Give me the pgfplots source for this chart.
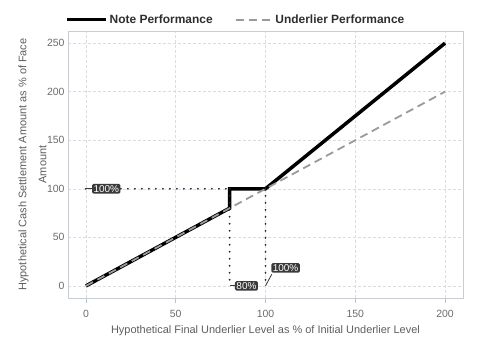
\documentclass[border=0pt]{standalone}
\usepackage{fontspec}
\setmainfont{Liberation Sans}
\usepackage{pgfplots}
\pgfplotsset{compat=1.18}
\definecolor{tickc}{HTML}{6B6B6B}
\definecolor{labelc}{HTML}{5E5E5E}
\definecolor{gridc}{HTML}{DCDCDC}
\definecolor{axisc}{HTML}{C8CDD3}
\definecolor{tickmc}{HTML}{B8C4CE}
\definecolor{dotc}{HTML}{1E2838}
\definecolor{boxc}{HTML}{3A3A3A}
\definecolor{undc}{HTML}{9A9A9A}
\definecolor{legc}{HTML}{2E2E2E}
\pgfplotsset{
  noteimg/.style={legend image code/.code={\draw[##1] (0bp,0bp) -- (39bp,0bp);}},
  undimg/.style={legend image code/.code={\draw[##1] (0bp,0bp) -- (37bp,0bp);}},
}
\begin{document}
\begin{tikzpicture}
\begin{axis}[
  name=ax,
  scale only axis,
  width=395bp, height=267bp,
  xmin=-10, xmax=210, ymin=-12.5, ymax=262.5,
  xtick={0,50,100,150,200}, ytick={0,50,100,150,200,250},
  grid=major,
  major grid style={dashed, dash pattern=on 3bp off 2bp, color=gridc, line width=0.5bp},
  axis line style={draw=axisc, line width=0.8bp},
  xtick pos=lower, ytick pos=left,
  tick align=outside,
  xtick style={draw=tickmc, line width=0.6bp},
  ytick style={draw=none},
  major tick length=5bp,
  /pgf/number format/assume math mode=true,
  tick label style={font=\fontsize{10.5}{12}\selectfont, text=tickc},
  yticklabel style={xshift=5bp},
  xticklabel style={yshift=-4bp},
  xlabel={Hypothetical Final Underlier Level as \% of Initial Underlier Level},
  ylabel={Hypothetical Cash Settlement Amount as \% of Face\\Amount},
  label style={font=\fontsize{11}{20}\selectfont, text=labelc},
  ylabel style={align=center, at={(axis description cs:0,0.5)}, anchor=south, yshift=18bp},
  xlabel style={at={(axis description cs:0.5,0)}, anchor=north, yshift=-24bp},
  legend columns=2,
  legend style={at={(0,1)}, anchor=south west, xshift=-3bp, yshift=4bp, draw=none, fill=none,
    font=\bfseries\fontsize{12}{13}\selectfont, text=legc, inner sep=0pt,
    /tikz/every even column/.append style={column sep=20bp}},
  legend cell align=left,
]
\addplot[black, line width=3.5bp, line join=miter, noteimg]
  coordinates {(0,0) (80,80) (80,100) (100,100) (200,250)};
\addlegendentry{Note Performance}
\addplot[undc, line width=1.8bp, dash pattern=on 8bp off 5bp, undimg]
  coordinates {(0,0) (200,200)};
\addlegendentry{Underlier Performance}
\addplot[dotc, line width=2bp, dash pattern=on 0bp off 7bp, line cap=round, forget plot]
  coordinates {(0,100) (80,100)};
\addplot[dotc, line width=2bp, dash pattern=on 0bp off 7bp, line cap=round, forget plot]
  coordinates {(80,100) (80,0)};
\addplot[dotc, line width=2bp, dash pattern=on 0bp off 7bp, line cap=round, forget plot]
  coordinates {(100,100) (100,0)};
\draw[boxc, line width=0.8bp] (axis cs:0,100) -- (axis cs:5,100);
\draw[boxc, line width=0.8bp] (axis cs:80,0) -- (axis cs:86,0);
\draw[boxc, line width=0.8bp] (axis cs:100,0) -- (axis cs:103.5,12);
\node[fill=boxc, text=white, rounded corners=1.5bp, inner xsep=1.5bp, inner ysep=1.3bp, font=\fontsize{10}{11}\selectfont] at (axis cs:11.3,100) {100\%};
\node[fill=boxc, text=white, rounded corners=1.5bp, inner xsep=1.5bp, inner ysep=1.3bp, font=\fontsize{10}{11}\selectfont] at (axis cs:89.4,0) {80\%};
\node[fill=boxc, text=white, rounded corners=1.5bp, inner xsep=1.5bp, inner ysep=1.3bp, font=\fontsize{10}{11}\selectfont] at (axis cs:111.2,18.5) {100\%};
\end{axis}
\pgfresetboundingbox
\path[use as bounding box] (ax.south west) ++(-68bp,-62bp) rectangle ++(480bp,360bp);
\end{tikzpicture}
\end{document}
